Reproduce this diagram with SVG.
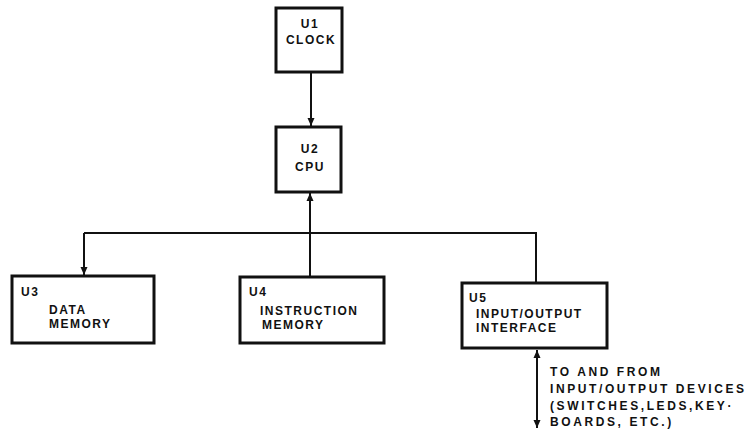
<svg xmlns="http://www.w3.org/2000/svg" width="747" height="429" viewBox="0 0 747 429">
<style>
.box{fill:#fff;stroke:#111;stroke-width:3}
.ln{fill:none;stroke:#111;stroke-width:2}
text{font-family:"Liberation Sans",Arial,sans-serif;font-weight:bold;font-size:12px;fill:#111;letter-spacing:1.5px}
.c{text-anchor:middle}
.note{letter-spacing:2.6px}
</style>
<defs>
<marker id="ah" viewBox="0 0 8 8" refX="8" refY="4" markerWidth="8" markerHeight="8" markerUnits="userSpaceOnUse" orient="auto-start-reverse">
<path d="M0,0.5 L8,4 L0,7.5 Z" fill="#111"/>
</marker>
</defs>
<rect width="747" height="429" fill="#fff"/>
<g id="connectors">
<path class="ln" d="M311,72 V126" marker-end="url(#ah)"/>
<path class="ln" d="M310,277 V193" marker-end="url(#ah)"/>
<path class="ln" d="M84,233 H536 V283"/>
<path class="ln" d="M84,233 V275" marker-end="url(#ah)"/>
<path class="ln" d="M537,350 V428" marker-start="url(#ah)" marker-end="url(#ah)"/>
</g>
<g id="u1">
<rect class="box" x="276" y="8" width="66" height="64"/>
<text class="c" x="310" y="28">U1</text>
<text class="c" x="311" y="44">CLOCK</text>
</g>
<g id="u2">
<rect class="box" x="276" y="127" width="65" height="65"/>
<text class="c" x="310" y="153">U2</text>
<text class="c" x="310" y="171">CPU</text>
</g>
<g id="u3">
<rect class="box" x="12" y="276" width="142" height="67"/>
<text x="21" y="296">U3</text>
<text x="49" y="314">DATA</text>
<text x="49" y="328">MEMORY</text>
</g>
<g id="u4">
<rect class="box" x="240" y="277" width="144" height="66"/>
<text x="249" y="296">U4</text>
<text x="260" y="315">INSTRUCTION</text>
<text x="262" y="329">MEMORY</text>
</g>
<g id="u5">
<rect class="box" x="462" y="283" width="145" height="65"/>
<text x="469" y="302">U5</text>
<text x="476" y="318">INPUT/OUTPUT</text>
<text x="476" y="332">INTERFACE</text>
</g>
<g id="note">
<text class="note" x="550" y="376">TO AND FROM</text>
<text class="note" x="550" y="393">INPUT/OUTPUT DEVICES</text>
<text class="note" x="550" y="410">(SWITCHES,LEDS,KEY·</text>
<text class="note" x="550" y="426">BOARDS, ETC.)</text>
</g>
</svg>
